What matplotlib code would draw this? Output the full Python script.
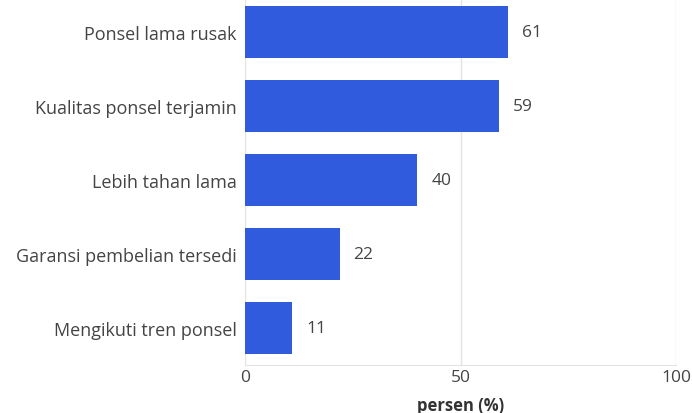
import matplotlib.pyplot as plt

# Alasan membeli ponsel baru
alasan = ["Ponsel lama rusak", "Kualitas ponsel terjamin", "Lebih tahan lama",
          "Garansi pembelian tersedi", "Mengikuti tren ponsel"]
persen = [61, 59, 40, 22, 11]

warna_bar = "#2F5BDC"
warna_teks = "#444444"

plt.rcParams['font.family'] = ['Open Sans', 'DejaVu Sans']

fig = plt.figure(figsize=(6.92, 4.14), dpi=100)
ax = fig.add_axes([0.354, 0.116, 0.623, 0.884])

pos = list(range(len(alasan)))
ax.barh(pos, persen, height=0.70, color=warna_bar, zorder=3)

for p, v in zip(pos, persen):
    ax.text(v + 3.2, p, str(v), va="center", ha="left", fontsize=12.5, color=warna_teks)

ax.set_yticks(pos)
ax.set_yticklabels(alasan, fontsize=13, color=warna_teks)
ax.set_ylim(4.5, -0.45)

ax.set_xlim(0, 100)
ax.set_xticks([0, 50, 100])
ax.set_xticklabels(["0", "50", "100"], fontsize=12.5, color=warna_teks)
ax.grid(axis="x", color="#E3E3E3", linewidth=1, zorder=0)
ax.tick_params(axis="y", length=0, pad=6)
ax.tick_params(axis="x", length=0, pad=3)

for s in ["top", "right", "left"]:
    ax.spines[s].set_visible(False)
ax.spines["bottom"].set_color("#E3E3E3")

ax.set_xlabel("persen (%)", fontsize=12, fontweight="bold", color="#333333", labelpad=8)

fig.savefig("out.png", dpi=100)
